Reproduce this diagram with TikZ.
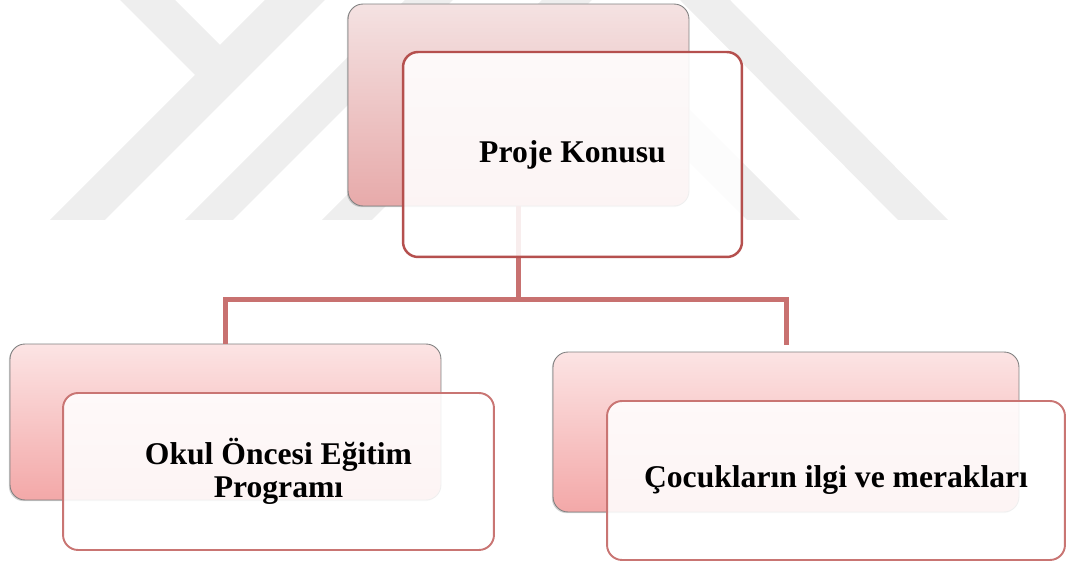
\documentclass[tikz,border=0pt]{standalone}
\usepackage{fontspec}
\setmainfont{Liberation Serif}
\usetikzlibrary{shadows}

\definecolor{boxred}{HTML}{B5504E}
\definecolor{boxrose}{HTML}{C97573}
\definecolor{linkred}{HTML}{C87170}
\definecolor{wmgray}{HTML}{EEEEEE}
\definecolor{toptop}{HTML}{F4E2E2}
\definecolor{topbot}{HTML}{E7AAAA}
\definecolor{lowtop}{HTML}{FCE4E4}
\definecolor{lowbot}{HTML}{F3A8A8}

\begin{document}
\begin{tikzpicture}[x=0.02cm, y=-0.02cm,
  backbox/.style={rounded corners=0.3cm, draw=black!50, line width=0.5pt,
    drop shadow={shadow xshift=-0.7pt, shadow yshift=-0.7pt, opacity=0.35}},
  frontbox/.style={rounded corners=0.3cm, fill=white, fill opacity=0.88,
    text opacity=1, align=center, font=\fontsize{18}{19}\selectfont\bfseries},
  link/.style={draw=linkred, line width=0.1cm}]
\useasboundingbox (0,0) rectangle (1066,563);

% watermark
\fill[wmgray] (120,0) -- (175,0) -- (220,45) -- (265,0) -- (325,0)
  -- (105,220) -- (50,220) -- (195,75) -- cycle;
\fill[wmgray] (185,220) -- (233,220) -- (453,0) -- (405,0) -- cycle;
\fill[wmgray] (322,220) -- (372,220) -- (592,0) -- (542,0) -- cycle;
\fill[wmgray] (680,0) -- (730,0) -- (948,220) -- (898,220) -- cycle;
\fill[wmgray] (747,220) -- (800,220) -- (680,100) -- (627,100) -- cycle;

% back boxes
\node[backbox, top color=toptop, bottom color=topbot,
  minimum width=6.82cm, minimum height=4.04cm] (topback) at (518.5,105) {};
\node[backbox, top color=lowtop, bottom color=lowbot,
  minimum width=8.62cm, minimum height=3.12cm] (leftback) at (225.5,422) {};
\node[backbox, top color=lowtop, bottom color=lowbot,
  minimum width=9.32cm, minimum height=3.2cm] (rightback) at (786,432) {};

% connectors
\coordinate (bar) at (518.5,300);
\draw[link] (topback.south) -- (topback.south |- bar) -| (leftback.north);
\draw[link, shorten >=0.14cm] (topback.south |- bar) -| (rightback.north);

% front boxes
\node[frontbox, draw=boxred, line width=1.4pt,
  minimum width=6.78cm, minimum height=4.1cm] (topic) at (572.5,154.5) {Proje Konusu};
\node[frontbox, draw=boxrose, line width=1.1pt,
  minimum width=8.62cm, minimum height=3.14cm] (program) at (278.5,471.5)
  {Okul Öncesi Eğitim\\Programı};
\node[frontbox, draw=boxrose, line width=1.1pt,
  minimum width=9.16cm, minimum height=3.18cm] (interest) at (836,480.5)
  {Çocukların ilgi ve merakları};
\end{tikzpicture}
\end{document}
